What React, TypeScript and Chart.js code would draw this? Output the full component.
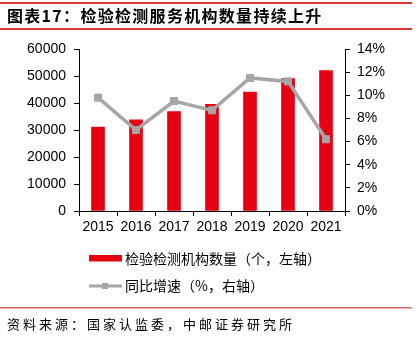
import React, { useEffect, useRef } from "react";
import { Chart, registerables } from "chart.js";

Chart.register(...registerables);

const titleText = "图表17：检验检测服务机构数量持续上升";
const sourceText = "资料来源：国家认监委，中邮证券研究所";
const categories = ["2015", "2016", "2017", "2018", "2019", "2020", "2021"];
const institutionCounts = [31100, 33800, 36800, 39500, 44000, 49000, 52000];
const growthRates = [9.8, 7.0, 9.5, 8.7, 11.5, 11.2, 6.2];
const barLabel = "检验检测机构数量（个，左轴）";
const lineLabel = "同比增速（%，右轴）";

const RED = "#E60012";
const GREY = "#A6A6A6";
const LINE_RED = "#D9393E";
const CJK = '"Noto Sans CJK SC", "Liberation Sans", sans-serif';
const LAT = '"Liberation Sans", Arial, sans-serif';

const decorPlugin = {
  id: "decor",
  afterDraw(chart: any) {
    const ctx = chart.ctx as CanvasRenderingContext2D;
    ctx.save();
    // lines
    ctx.fillStyle = LINE_RED;
    ctx.fillRect(0, 2, 412, 2);
    ctx.fillRect(0, 28, 412, 2);
    ctx.fillStyle = "#E06060";
    ctx.fillRect(0, 307, 412, 1.5);
    // title
    ctx.fillStyle = "#000";
    ctx.font = `bold 16px ${CJK}`;
    ctx.textBaseline = "middle";
    ctx.textAlign = "left";
    (ctx as any).letterSpacing = "1.3px";
    ctx.fillText(titleText, 7, 16);
    (ctx as any).letterSpacing = "0px";
    // legend
    ctx.fillStyle = RED;
    ctx.fillRect(89, 255, 33, 6.5);
    ctx.strokeStyle = GREY;
    ctx.lineWidth = 3;
    ctx.beginPath();
    ctx.moveTo(89, 286);
    ctx.lineTo(122, 286);
    ctx.stroke();
    ctx.fillStyle = GREY;
    ctx.fillRect(102, 283, 6, 6);
    ctx.fillStyle = "#000";
    ctx.font = `14px ${CJK}`;
    ctx.fillText(barLabel, 125, 259);
    ctx.fillText(lineLabel, 125, 286);
    // source
    ctx.font = `13px ${CJK}`;
    const chars = Array.from(sourceText);
    chars.forEach((c, i) => ctx.fillText(c, 7 + i * 16, 324));
    ctx.restore();
  },
};

export default function App() {
  const ref = useRef<HTMLCanvasElement | null>(null);
  useEffect(() => {
    if (!ref.current) return;
    const chart = new Chart(ref.current, {
      type: "bar",
      data: {
        labels: categories,
        datasets: [
          {
            type: "line",
            label: lineLabel,
            data: growthRates,
            yAxisID: "y1",
            borderColor: GREY,
            backgroundColor: GREY,
            borderWidth: 3.5,
            pointStyle: "rect",
            pointRadius: 5,
            pointBorderWidth: 1,
            pointBackgroundColor: GREY,
            pointBorderColor: GREY,
            tension: 0,
            order: 0,
          } as any,
          {
            type: "bar",
            label: barLabel,
            data: institutionCounts,
            yAxisID: "y",
            backgroundColor: RED,
            barThickness: 13,
            order: 1,
          },
        ],
      },
      plugins: [decorPlugin],
      options: {
        responsive: false,
        animation: false,
        layout: { padding: { left: 0, right: 0, top: 49, bottom: 111 } },
        plugins: { legend: { display: false }, tooltip: { enabled: false } },
        scales: {
          x: {
            offset: true,
            grid: { display: true, drawOnChartArea: false, drawTicks: true, tickLength: 5, color: "#000", offset: true },
            border: { display: true, color: "#000", width: 1 },
            ticks: { color: "#000", font: { family: LAT, size: 14 }, padding: 3, maxRotation: 0 },
            afterFit: (s: any) => { s.height = 30; },
          },
          y: {
            position: "left",
            min: 0,
            max: 60000,
            grid: { display: true, drawOnChartArea: false, drawTicks: true, tickLength: 5, color: "#000" },
            border: { display: true, color: "#000", width: 1 },
            ticks: { stepSize: 10000, color: "#000", font: { family: LAT, size: 14 }, padding: 8, callback: (v: any) => `${v}` },
            afterFit: (s: any) => { s.width = 79; },
          },
          y1: {
            position: "right",
            min: 0,
            max: 14,
            grid: { display: true, drawOnChartArea: false, drawTicks: true, tickLength: 5, color: "#000" },
            border: { display: true, color: "#000", width: 1 },
            ticks: { stepSize: 2, color: "#000", font: { family: LAT, size: 14 }, padding: 7, callback: (v: any) => `${v}%` },
            afterFit: (s: any) => { s.width = 73; },
          },
        },
      },
    });
    return () => chart.destroy();
  }, []);
  return (
    <div style={{ position: "fixed", left: 0, top: 0, width: 418, height: 352, background: "#fff" }}>
      <canvas ref={ref} width={418} height={352} style={{ width: 418, height: 352 }} />
    </div>
  );
}
